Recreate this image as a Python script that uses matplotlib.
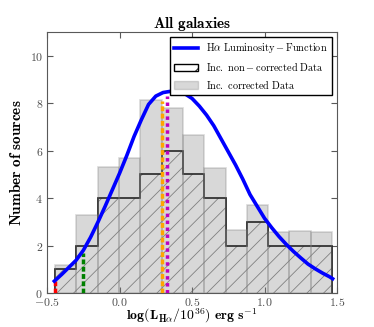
import numpy as np
import matplotlib
matplotlib.use('Agg')
import matplotlib.pyplot as plt
from matplotlib.patches import Patch
from matplotlib.lines import Line2D


# histogram bins (log L_Halpha / 1e36)
bin_edges = [-0.445, -0.298, -0.151, -0.004, 0.143, 0.290, 0.437,
             0.584, 0.731, 0.878, 1.025, 1.172, 1.319, 1.466]
non_corrected_counts = [1, 2, 4, 4, 5, 6, 5, 4, 2, 3, 2, 2, 2]
corrected_counts = [1.2, 3.3, 5.3, 5.7, 8.15, 7.8, 6.65, 5.28, 2.65, 3.7, 2.55, 2.6, 2.55]

# Halpha luminosity function curve
lf_x = [-0.45, -0.40, -0.35, -0.30, -0.25, -0.20, -0.15, -0.10, -0.05, 0.00,
        0.05, 0.10, 0.15, 0.20, 0.25, 0.30, 0.35, 0.40, 0.45, 0.50,
        0.55, 0.60, 0.65, 0.70, 0.75, 0.80, 0.85, 0.90, 0.95, 1.00,
        1.05, 1.10, 1.15, 1.20, 1.25, 1.30, 1.35, 1.40, 1.45, 1.47]
lf_y = [0.50, 0.78, 1.08, 1.38, 1.80, 2.35, 2.98, 3.65, 4.35, 5.05,
        5.80, 6.60, 7.30, 7.95, 8.30, 8.45, 8.50, 8.48, 8.40, 8.20,
        7.88, 7.50, 7.05, 6.50, 5.95, 5.40, 4.80, 4.15, 3.65, 3.15,
        2.75, 2.38, 2.05, 1.75, 1.48, 1.22, 1.02, 0.84, 0.68, 0.60]

# vertical markers
marker_x   = [-0.445, -0.25, 0.291, 0.327]
marker_top = [0.5, 1.7, 8.1, 8.3]
marker_col = ['red', 'green', 'orange', 'm']


def main():
    plt.rcParams['mathtext.fontset'] = 'cm'
    plt.rcParams['font.family'] = 'serif'
    plt.rcParams['font.serif'] = ['cmr10', 'DejaVu Serif']
    plt.rcParams['axes.formatter.use_mathtext'] = True
    plt.rcParams['hatch.linewidth'] = 0.6

    fig = plt.figure(figsize=(3.74, 3.27), dpi=100)
    ax = fig.add_axes([0.126, 0.104, 0.775, 0.798])

    edges = np.array(bin_edges)
    widths = np.diff(edges)

    # hatched non-corrected data
    ax.bar(edges[:-1], non_corrected_counts, width=widths, align='edge',
           fill=False, edgecolor='0.5', lw=0, hatch='//', zorder=1)
    ax.stairs(non_corrected_counts, edges, color='k', lw=1.2, zorder=2)

    # corrected data
    ax.bar(edges[:-1], corrected_counts, width=widths, align='edge',
           color='gray', edgecolor='gray', alpha=0.3, lw=1.2, zorder=3)

    ax.plot(lf_x, lf_y, color='b', lw=2.6, zorder=5)

    for x, top, col in zip(marker_x, marker_top, marker_col):
        ds = (1.0, 1.0) if col == 'm' else (1.4, 0.7)
        ax.plot([x, x], [0, top], color=col, lw=2.5, dashes=ds, zorder=4)

    ax.set_xlim(-0.5, 1.5)
    ax.set_ylim(0, 11)
    ax.set_xticks([-0.5, 0.0, 0.5, 1.0, 1.5])
    ax.set_yticks([0, 2, 4, 6, 8, 10])
    ax.tick_params(direction='in', top=True, right=True, length=4, pad=3,
                   labelsize=8.5, colors='0.35', labelcolor='0.3')
    ax.tick_params(axis='x', pad=2)
    for s in ax.spines.values():
        s.set_color('0.35')

    ax.set_title(r'$\mathbf{All\ galaxies}$', fontsize=11, pad=3)
    ax.set_ylabel(r'$\mathbf{Number\ of\ sources}$', fontsize=11, labelpad=4)
    ax.set_xlabel(r'$\mathbf{log(L_{H\alpha}/10^{36})\ erg\ s^{-1}}$', fontsize=10, labelpad=-1)

    handles = [
        Line2D([], [], color='b', lw=2.6),
        Patch(facecolor='white', edgecolor='k', hatch='/', lw=1.0),
        Patch(facecolor='gray', edgecolor='gray', alpha=0.3, lw=1.0),
    ]
    labels = [
        r'$\mathrm{H\alpha\ Luminosity-Function}$',
        r'$\mathrm{Inc.\ non-corrected\ Data}$',
        r'$\mathrm{Inc.\ corrected\ Data}$',
    ]
    leg = ax.legend(handles, labels, loc='upper right', fontsize=7.4,
                    fancybox=False, framealpha=1, edgecolor='k',
                    handlelength=2.3, borderaxespad=0.5, labelspacing=0.45)
    leg.get_frame().set_linewidth(1.0)

    plt.savefig('out.png', dpi=100)
    plt.close()


if __name__ == '__main__':
    main()
